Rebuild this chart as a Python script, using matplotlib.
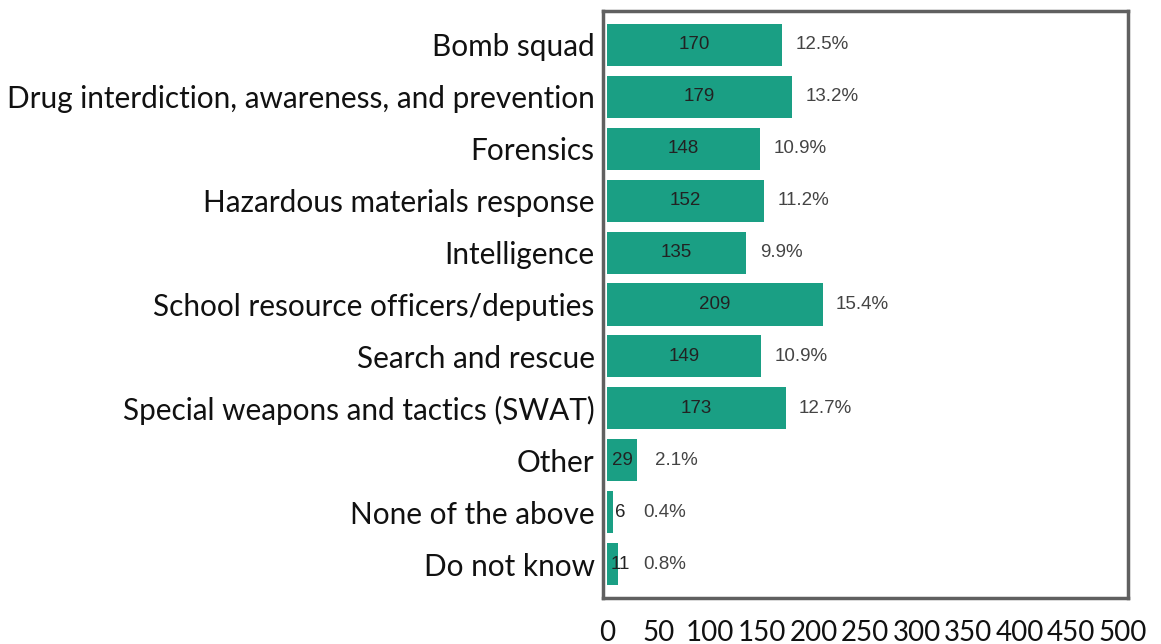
import matplotlib
matplotlib.use("Agg")
import matplotlib.pyplot as plt
import numpy as np

categories = [
    "Bomb squad",
    "Drug interdiction, awareness, and prevention",
    "Forensics",
    "Hazardous materials response",
    "Intelligence",
    "School resource officers/deputies",
    "Search and rescue",
    "Special weapons and tactics (SWAT)",
    "Other",
    "None of the above",
    "Do not know",
]
counts = [170, 179, 148, 152, 135, 209, 149, 173, 29, 6, 11]
percents = ["12.5%", "13.2%", "10.9%", "11.2%", "9.9%", "15.4%",
            "10.9%", "12.7%", "2.1%", "0.4%", "0.8%"]
x_ticks = [0, 50, 100, 150, 200, 250, 300, 350, 400, 450, 500]

bar_color = "#1a9f84"
frame_color = "#606060"

fig = plt.figure(figsize=(11.61, 6.44), dpi=100)
W, H = 1161, 644
ax = fig.add_axes([603 / W, 1 - 598 / H, (1128 - 603) / W, (598 - 11) / H])

y = np.arange(len(categories))
ax.barh(y, counts, height=0.81, color=bar_color, left=0)

for i, (v, p) in enumerate(zip(counts, percents)):
    # short bars push their count and share to the right
    lab_x = max(v / 2, 12.5)
    ax.text(lab_x, i, str(v), ha="center", va="center", fontsize=13.5,
            family="Liberation Sans", color="#222222")
    gap = 17.5 if v < 40 else 13
    pct_x = max(v + gap, lab_x + 22.5)
    ax.text(pct_x, i, p, ha="left", va="center", fontsize=13.5,
            family="Liberation Sans", color="#444444")

ax.set_xlim(-4, 505)
ax.set_ylim(len(categories) - 1 + 0.65, -0.65)
ax.set_yticks(y)
ax.set_yticklabels(categories, family="Lato", fontsize=21.4, color="#111111")
ax.set_xticks(x_ticks)
ax.set_xticklabels([str(t) for t in x_ticks], family="Lato", fontsize=20,
                   color="#111111")
ax.tick_params(axis="both", length=0)
ax.tick_params(axis="y", pad=6)
ax.tick_params(axis="x", pad=16)

for s in ax.spines.values():
    s.set_color(frame_color)
    s.set_linewidth(2.5)

fig.savefig("out.png", dpi=100)
